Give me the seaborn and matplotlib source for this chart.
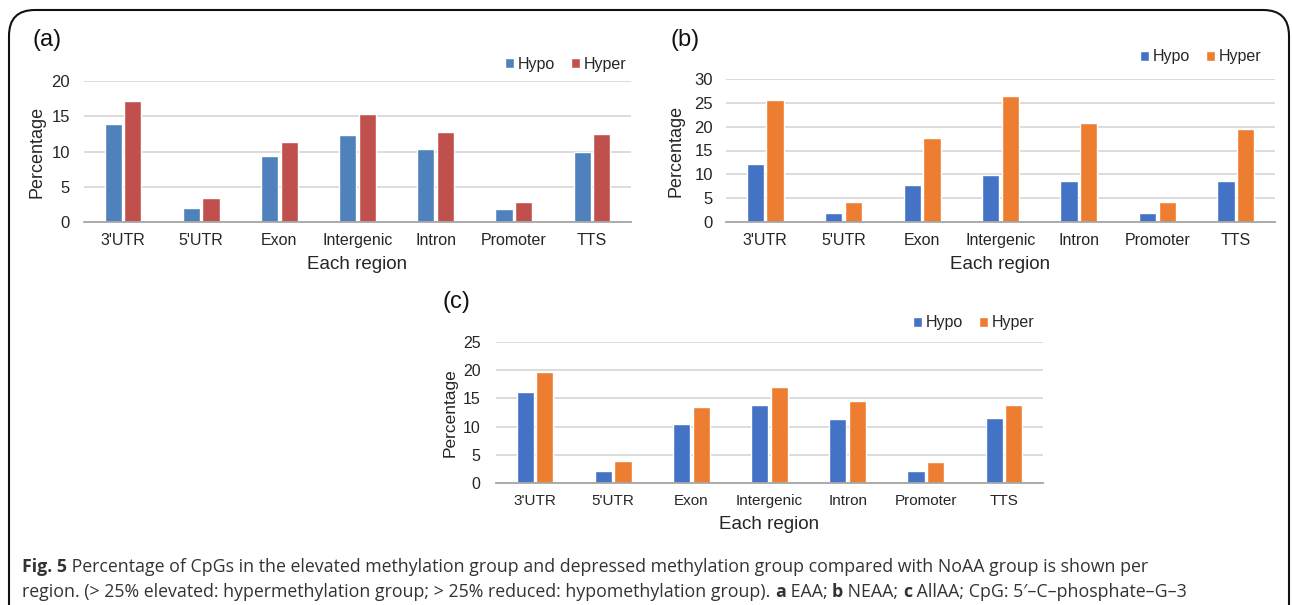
import numpy as np
import pandas as pd
import matplotlib
matplotlib.use("Agg")
import matplotlib.pyplot as plt
import seaborn as sns
from matplotlib.patches import FancyBboxPatch

regions = ["3'UTR", "5'UTR", "Exon", "Intergenic", "Intron", "Promoter", "TTS"]
groups = ["Hypo", "Hyper"]

a_hypo = [13.9, 2.0, 9.3, 12.3, 10.3, 1.9, 10.0]
a_hyper = [17.2, 3.4, 11.4, 15.35, 12.8, 2.9, 12.5]
b_hypo = [12.2, 1.85, 7.75, 9.9, 8.5, 1.85, 8.55]
b_hyper = [25.65, 4.15, 17.7, 26.4, 20.7, 4.15, 19.45]
c_hypo = [16.05, 2.05, 10.4, 13.75, 11.3, 2.05, 11.5]
c_hyper = [19.7, 3.85, 13.4, 17.05, 14.5, 3.75, 13.9]

panel_labels = ["(a)", "(b)", "(c)"]
y_max = [20, 30, 25]
y_step = [5, 5, 5]
x_label = "Each region"
y_label = "Percentage"

caption1_bold = "Fig. 5"
caption1 = " Percentage of CpGs in the elevated methylation group and depressed methylation group compared with NoAA group is shown per"
caption2_parts = [("region. (> 25% elevated: hypermethylation group; > 25% reduced: hypomethylation group). ", False),
                  ("a", True), (" EAA; ", False), ("b", True), (" NEAA; ", False),
                  ("c", True), (" AllAA; CpG: 5\u2032\u2013C\u2013phosphate\u2013G\u20133", False)]

sns.set_theme(style="white")
plt.rcParams['font.family'] = ['Liberation Sans', 'DejaVu Sans']

W, H = 1292, 605
fig = plt.figure(figsize=(W / 100, H / 100), dpi=100)

def px_rect(left, top, right, bottom):
    return [left / W, 1 - bottom / H, (right - left) / W, (bottom - top) / H]

palettes = [["#4F81BD", "#C0504D"], ["#4472C4", "#ED7D31"], ["#4472C4", "#ED7D31"]]
datas = [(a_hypo, a_hyper), (b_hypo, b_hyper), (c_hypo, c_hyper)]
rects = [px_rect(84, 81, 631, 222), px_rect(726, 79, 1275, 222), px_rect(496, 342, 1043, 483)]
label_pos = [(32, 40), (671, 40), (443, 302)]
legend_anchor = [(626, 64), (1261, 57), (1034, 323)]
# per panel: xtick size, ytick size, ytick pad, xlabel size, ylabel size, ylabel pad
styles = [
    (11.5, 12, 10, 13.5, 13, 4),
    (11.5, 12, 9.5, 13.5, 13, 7),
    (11, 11.5, 11, 13.5, 12.5, 4),
]

txt_col = "#262626"
for i in range(3):
    hypo, hyper = datas[i]
    xts, yts, ypad, xls, yls, ylp = styles[i]
    df = pd.DataFrame({
        "region": regions * 2,
        "group": [groups[0]] * len(regions) + [groups[1]] * len(regions),
        "value": hypo + hyper,
    })
    ax = fig.add_axes(rects[i])
    sns.barplot(data=df, x="region", y="value", hue="group", order=regions,
                hue_order=groups, palette=palettes[i], width=0.5, gap=0.12,
                saturation=1, ax=ax, legend=True)
    ax.set_xlim(-0.5, len(regions) - 0.5)
    ax.set_ylim(0, y_max[i])
    ax.set_yticks(np.arange(0, y_max[i] + 0.1, y_step[i]))
    ax.yaxis.grid(True, color="#d9d9d9", linewidth=1.3)
    ax.set_axisbelow(True)
    for s in ["top", "right", "left"]:
        ax.spines[s].set_visible(False)
    ax.spines["bottom"].set_color("#a6a6a6")
    ax.spines["bottom"].set_linewidth(1.3)
    ax.tick_params(axis="x", length=0, colors=txt_col, pad=8, labelsize=xts)
    ax.tick_params(axis="y", length=0, colors=txt_col, pad=ypad, labelsize=yts)
    ax.set_xlabel(x_label, fontsize=xls, color=txt_col, labelpad=6)
    ax.set_ylabel(y_label, fontsize=yls, color=txt_col, labelpad=ylp)
    handles, labels = ax.get_legend_handles_labels()
    ax.legend(handles, labels, loc="center right", ncol=2, frameon=False,
              bbox_to_anchor=(legend_anchor[i][0] / W, 1 - legend_anchor[i][1] / H),
              bbox_transform=fig.transFigure, handlelength=0.6, borderpad=0, borderaxespad=0,
              handleheight=0.6, handletextpad=0.2, columnspacing=1.0, labelcolor=txt_col,
              fontsize=11.5)
    fig.text(label_pos[i][0] / W, 1 - label_pos[i][1] / H, panel_labels[i],
             fontsize=17, color="#111111", va="center", ha="left")

# Border box
box = FancyBboxPatch((9 / W, -0.2), (1289 - 9) / W, (H - 10) / H + 0.2,
                     boxstyle="round,pad=0,rounding_size=0.02",
                     transform=fig.transFigure, fill=False, edgecolor="#111111",
                     linewidth=1.5, mutation_aspect=W / H)
fig.patches.append(box)

# Caption
renderer = fig.canvas.get_renderer()
cap_font = ['Open Sans', 'DejaVu Sans']
cap_col = "#333333"
cap_size = 12.75

def draw_runs(parts, x0, y):
    x = x0
    for s, bold in parts:
        t = fig.text(x / W, 1 - y / H, s, fontsize=cap_size, family=cap_font,
                     fontweight="bold" if bold else "normal", color=cap_col, va="baseline", ha="left")
        bb = t.get_window_extent(renderer=renderer)
        x += bb.width

draw_runs([(caption1_bold, True), (caption1, False)], 22, 572)
draw_runs(caption2_parts, 22, 597)

fig.savefig("out.png", dpi=100)
